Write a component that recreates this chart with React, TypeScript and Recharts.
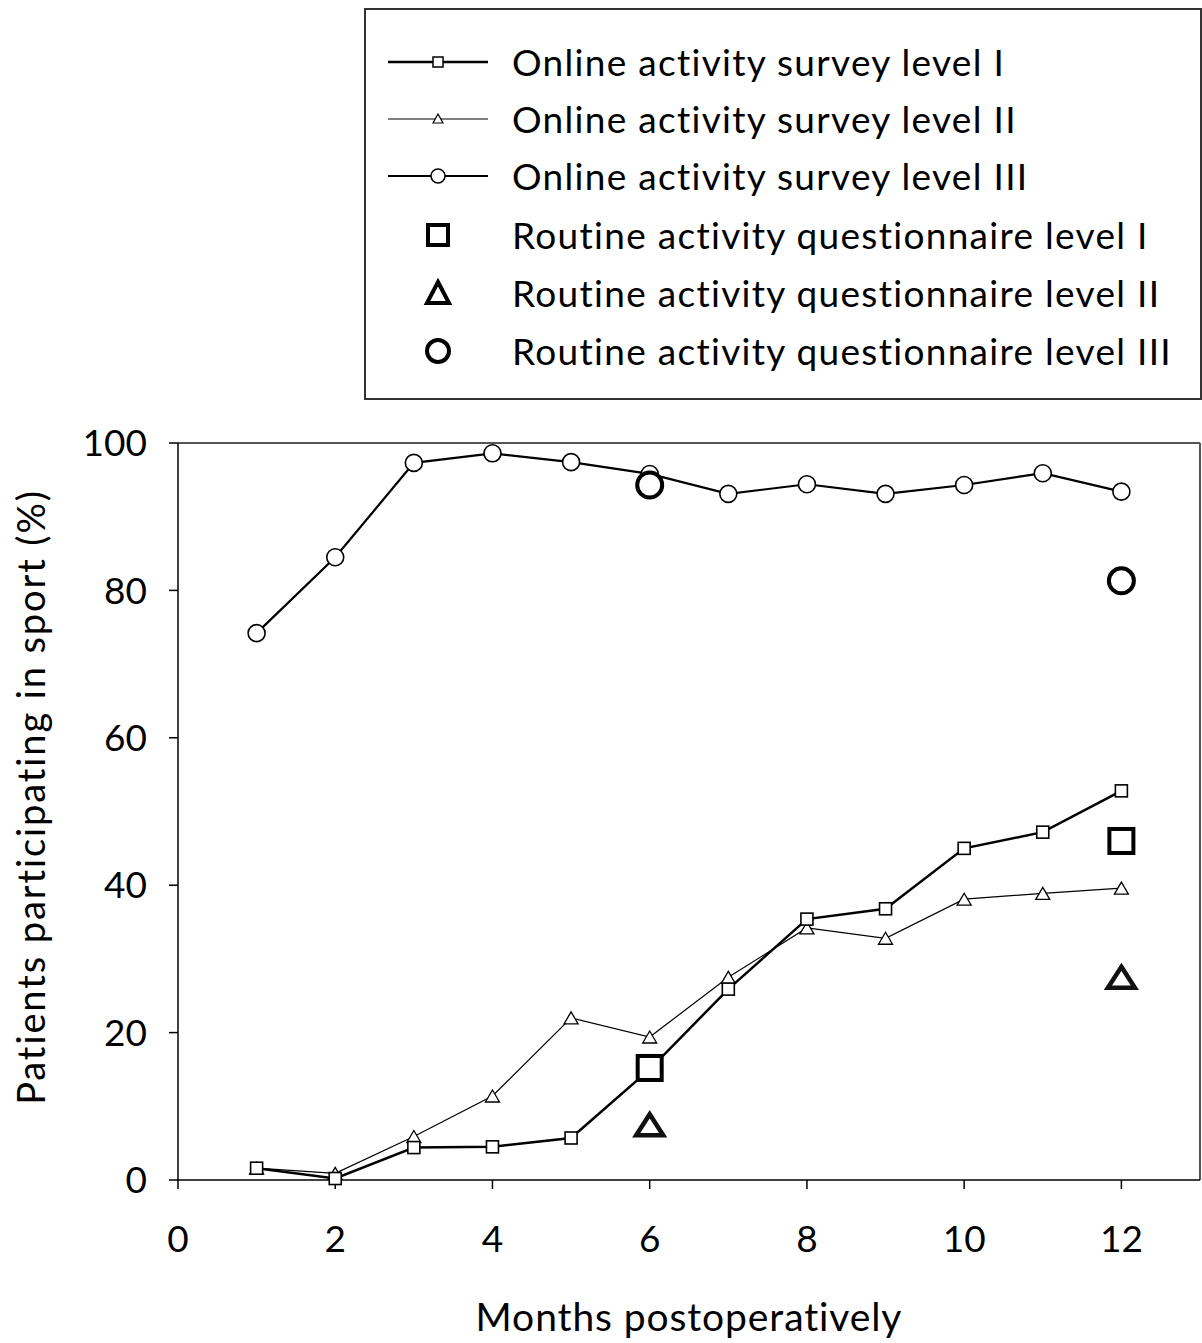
import React from 'react';
import {
  ComposedChart,
  Line,
  Scatter,
  XAxis,
  YAxis,
  ReferenceLine,
} from 'recharts';

const months = [1, 2, 3, 4, 5, 6, 7, 8, 9, 10, 11, 12];
const onlineLevelI = [1.6, 0.2, 4.4, 4.5, 5.7, 15.0, 25.9, 35.4, 36.8, 45.0, 47.2, 52.8];
const onlineLevelII = [1.6, 0.9, 5.9, 11.4, 22.0, 19.4, 27.5, 34.2, 32.8, 38.1, 38.9, 39.6];
const onlineLevelIII = [74.2, 84.5, 97.3, 98.6, 97.4, 95.8, 93.1, 94.4, 93.1, 94.3, 95.9, 93.4];

const routineMonths = [6, 12];
const routineLevelI = [15.2, 46.0];
const routineLevelII = [7.5, 27.5];
const routineLevelIII = [94.3, 81.3];

const xTicks = [0, 2, 4, 6, 8, 10, 12];
const yTicks = [0, 20, 40, 60, 80, 100];

const seriesNames = [
  'Online activity survey level I',
  'Online activity survey level II',
  'Online activity survey level III',
  'Routine activity questionnaire level I',
  'Routine activity questionnaire level II',
  'Routine activity questionnaire level III',
];

const onlineData = months.map((m, i) => ({
  month: m,
  l1: onlineLevelI[i],
  l2: onlineLevelII[i],
  l3: onlineLevelIII[i],
}));
const routineIData = routineMonths.map((m, i) => ({ month: m, v: routineLevelI[i] }));
const routineIIData = routineMonths.map((m, i) => ({ month: m, v: routineLevelII[i] }));
const routineIIIData = routineMonths.map((m, i) => ({ month: m, v: routineLevelIII[i] }));

const FONT = 'Lato, "Open Sans", sans-serif';

const SmallSquare = (props: any) => {
  const { cx, cy, index } = props;
  if (cx == null || cy == null) return <g key={index} />;
  return <rect key={index} x={cx - 6} y={cy - 6} width={12} height={12} fill="#fff" stroke="#000" strokeWidth={1.6} />;
};
const SmallTriangle = (props: any) => {
  const { cx, cy, index } = props;
  if (cx == null || cy == null) return <g key={index} />;
  const w = 14, h = 12;
  return (
    <polygon
      key={index}
      points={`${cx},${cy - h / 2} ${cx + w / 2},${cy + h / 2} ${cx - w / 2},${cy + h / 2}`}
      fill="#fff"
      stroke="#000"
      strokeWidth={1.3}
    />
  );
};
const SmallCircle = (props: any) => {
  const { cx, cy, index } = props;
  if (cx == null || cy == null) return <g key={index} />;
  return <circle key={index} cx={cx} cy={cy} r={8.5} fill="#fff" stroke="#000" strokeWidth={1.6} />;
};

const BigSquare = (props: any) => {
  const { cx, cy } = props;
  return <rect x={cx - 12} y={cy - 12} width={24} height={24} fill="#fff" stroke="#000" strokeWidth={4} />;
};
const BigTriangle = (props: any) => {
  const { cx, cy } = props;
  const w = 27, h = 21;
  return (
    <polygon
      points={`${cx},${cy - h / 2} ${cx + w / 2},${cy + h / 2} ${cx - w / 2},${cy + h / 2}`}
      fill="#fff"
      stroke="#111"
      strokeWidth={4.5}
      strokeLinejoin="miter"
    />
  );
};
const BigCircle = (props: any) => {
  const { cx, cy } = props;
  return <circle cx={cx} cy={cy} r={12.5} fill="#fff" stroke="#000" strokeWidth={4} />;
};

const legendIcons = [
  (
    <svg width={110} height={30} key="a">
      <line x1={10} y1={15} x2={110} y2={15} stroke="#000" strokeWidth={2.5} />
      <rect x={55} y={10} width={10} height={10} fill="#fff" stroke="#000" strokeWidth={1.5} />
    </svg>
  ),
  (
    <svg width={110} height={30} key="b">
      <line x1={10} y1={15} x2={110} y2={15} stroke="#000" strokeWidth={1.2} />
      <polygon points="60,10 65,19 55,19" fill="#fff" stroke="#000" strokeWidth={1.2} />
    </svg>
  ),
  (
    <svg width={110} height={30} key="c">
      <line x1={10} y1={15} x2={110} y2={15} stroke="#000" strokeWidth={2.2} />
      <circle cx={60} cy={15} r={7} fill="#fff" stroke="#000" strokeWidth={1.5} />
    </svg>
  ),
  (
    <svg width={110} height={30} key="d">
      <rect x={50} y={5} width={20} height={20} fill="#fff" stroke="#000" strokeWidth={4} />
    </svg>
  ),
  (
    <svg width={110} height={30} key="e">
      <polygon points="60,4 71,25 49,25" fill="#fff" stroke="#000" strokeWidth={4} />
    </svg>
  ),
  (
    <svg width={110} height={30} key="f">
      <circle cx={60} cy={15} r={11} fill="#fff" stroke="#000" strokeWidth={4} />
    </svg>
  ),
];

const rowCenters = [62, 119, 176, 235, 293, 351];

export default function App() {
  return (
    <div
      style={{
        position: 'absolute',
        left: 0,
        top: 0,
        width: 1202,
        height: 1343,
        background: '#fff',
        fontFamily: FONT,
      }}
    >
      <ComposedChart
        width={1202}
        height={1343}
        data={onlineData}
        margin={{ top: 443, right: 2, bottom: 0, left: 0 }}
      >
        <XAxis
          dataKey="month"
          type="number"
          domain={[0, 13]}
          ticks={xTicks}
          allowDataOverflow
          axisLine={{ stroke: '#000', strokeWidth: 1.5 }}
          tickLine={{ stroke: '#000', strokeWidth: 1.5 }}
          tickSize={9}
          tickMargin={37}
          tick={{ fill: '#000', fontSize: 37, fontFamily: FONT }}
          height={163}
        />
        <YAxis
          type="number"
          domain={[0, 100]}
          ticks={yTicks}
          width={178}
          axisLine={{ stroke: '#000', strokeWidth: 1.5 }}
          tickLine={{ stroke: '#000', strokeWidth: 1.5 }}
          tickSize={9}
          tickMargin={22}
          tick={{ fill: '#000', fontSize: 37, fontFamily: FONT }}
        />
        <ReferenceLine y={100} stroke="#555" strokeWidth={2} ifOverflow="visible" />
        <ReferenceLine x={13} stroke="#555" strokeWidth={2} ifOverflow="visible" />
        <Line
          dataKey="l3"
          stroke="#000"
          strokeWidth={2.2}
          dot={SmallCircle}
          activeDot={false}
          isAnimationActive={false}
          name={seriesNames[2]}
        />
        <Line
          dataKey="l2"
          stroke="#000"
          strokeWidth={1.2}
          dot={SmallTriangle}
          activeDot={false}
          isAnimationActive={false}
          name={seriesNames[1]}
        />
        <Line
          dataKey="l1"
          stroke="#000"
          strokeWidth={2.5}
          dot={SmallSquare}
          activeDot={false}
          isAnimationActive={false}
          name={seriesNames[0]}
        />
        <Scatter data={routineIData} dataKey="v" shape={BigSquare} isAnimationActive={false} name={seriesNames[3]} />
        <Scatter data={routineIIData} dataKey="v" shape={BigTriangle} isAnimationActive={false} name={seriesNames[4]} />
        <Scatter data={routineIIIData} dataKey="v" shape={BigCircle} isAnimationActive={false} name={seriesNames[5]} />
      </ComposedChart>

      <svg
        width={1202}
        height={1343}
        style={{ position: 'absolute', left: 0, top: 0, pointerEvents: 'none' }}
      >
        <text
          x={0}
          y={0}
          transform="translate(45 797) rotate(-90)"
          textAnchor="middle"
          fontSize={38}
          letterSpacing={1.9}
          fontFamily={FONT}
          fill="#000"
        >
          Patients participating in sport (%)
        </text>
        <text x={689} y={1331} textAnchor="middle" fontSize={39} letterSpacing={0.9} fontFamily={FONT} fill="#000">
          Months postoperatively
        </text>
      </svg>

      <div
        style={{
          position: 'absolute',
          left: 364,
          top: 8,
          width: 834,
          height: 388,
          border: '2px solid #333',
          background: '#fff',
        }}
      >
        {seriesNames.map((name, i) => (
          <div
            key={name}
            style={{
              position: 'absolute',
              left: 0,
              top: rowCenters[i] - 8 - 2 - 20,
              height: 40,
              display: 'flex',
              alignItems: 'center',
              whiteSpace: 'nowrap',
            }}
          >
            <div style={{ width: 12 }} />
            {legendIcons[i]}
            <span
              style={{
                marginLeft: 24,
                fontSize: 37,
                letterSpacing: 1.3,
                color: '#000',
                fontFamily: FONT,
                lineHeight: '40px',
              }}
            >
              {name}
            </span>
          </div>
        ))}
      </div>
    </div>
  );
}
